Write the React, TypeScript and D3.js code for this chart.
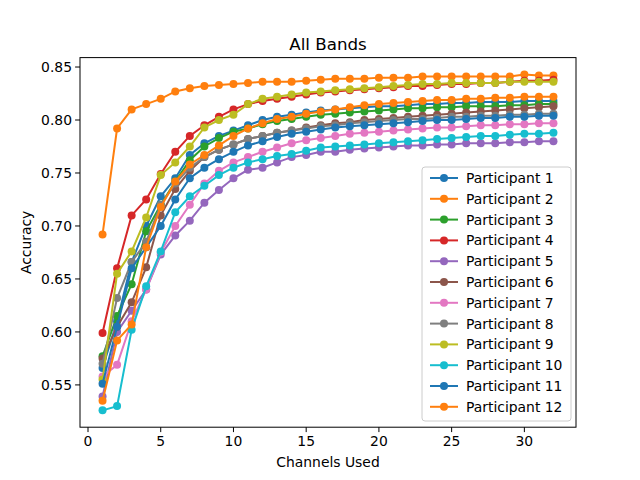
import * as d3 from "d3";

const channels = d3.range(1, 33);
const colors = ["#1f77b4", "#ff7f0e", "#2ca02c", "#d62728", "#9467bd", "#8c564b", "#e377c2", "#7f7f7f", "#bcbd22", "#17becf", "#1f77b4", "#ff7f0e"];
const names = d3.range(1, 13).map((i) => `Participant ${i}`);

const p1 = [0.566,0.61,0.666,0.70,0.728,0.745,0.767,0.778,0.785,0.79,0.795,0.80,0.803,0.805,0.807,0.809,0.81,0.811,0.812,0.813,0.813,0.814,0.815,0.815,0.816,0.816,0.817,0.817,0.817,0.818,0.818,0.818];
const p2 = [0.692,0.792,0.81,0.815,0.82,0.827,0.83,0.832,0.833,0.834,0.835,0.836,0.836,0.836,0.837,0.838,0.839,0.839,0.839,0.84,0.84,0.84,0.841,0.841,0.841,0.841,0.841,0.841,0.841,0.843,0.842,0.842];
const p3 = [0.577,0.615,0.645,0.695,0.72,0.742,0.762,0.775,0.783,0.789,0.792,0.796,0.799,0.801,0.803,0.805,0.806,0.807,0.808,0.809,0.81,0.811,0.811,0.812,0.812,0.813,0.813,0.813,0.814,0.814,0.815,0.815];
const p4 = [0.599,0.66,0.71,0.725,0.749,0.77,0.785,0.795,0.803,0.81,0.815,0.818,0.82,0.822,0.824,0.826,0.827,0.828,0.829,0.83,0.831,0.832,0.832,0.833,0.834,0.834,0.835,0.835,0.836,0.837,0.837,0.838];
const p5 = [0.539,0.60,0.62,0.64,0.673,0.691,0.705,0.722,0.734,0.745,0.753,0.755,0.76,0.765,0.767,0.77,0.77,0.772,0.773,0.774,0.775,0.776,0.776,0.777,0.777,0.778,0.778,0.778,0.779,0.779,0.78,0.78];
const p6 = [0.575,0.605,0.628,0.661,0.71,0.735,0.752,0.765,0.772,0.777,0.782,0.785,0.788,0.79,0.793,0.795,0.797,0.798,0.8,0.801,0.802,0.803,0.804,0.805,0.806,0.807,0.808,0.809,0.81,0.811,0.812,0.813];
const p7 = [0.558,0.569,0.61,0.64,0.675,0.70,0.72,0.74,0.752,0.76,0.765,0.77,0.774,0.778,0.781,0.783,0.785,0.787,0.788,0.789,0.79,0.791,0.792,0.793,0.793,0.794,0.795,0.795,0.796,0.796,0.797,0.797];
const p8 = [0.57,0.632,0.666,0.685,0.72,0.74,0.755,0.765,0.772,0.777,0.782,0.785,0.788,0.79,0.792,0.794,0.795,0.797,0.798,0.799,0.8,0.801,0.801,0.802,0.803,0.803,0.804,0.804,0.805,0.805,0.806,0.806];
const p9 = [0.555,0.655,0.676,0.708,0.748,0.76,0.775,0.793,0.80,0.805,0.815,0.82,0.822,0.824,0.826,0.827,0.828,0.829,0.83,0.831,0.832,0.833,0.834,0.834,0.835,0.835,0.835,0.835,0.836,0.836,0.836,0.836];
const p10 = [0.526,0.53,0.602,0.643,0.676,0.713,0.728,0.738,0.748,0.755,0.76,0.763,0.766,0.768,0.771,0.774,0.775,0.776,0.777,0.778,0.779,0.78,0.781,0.782,0.783,0.784,0.785,0.785,0.786,0.787,0.787,0.788];
const p11 = [0.551,0.605,0.66,0.68,0.70,0.725,0.745,0.755,0.763,0.77,0.776,0.78,0.784,0.787,0.789,0.791,0.793,0.794,0.795,0.796,0.797,0.798,0.799,0.8,0.8,0.801,0.802,0.802,0.803,0.803,0.804,0.804];
const p12 = [0.535,0.592,0.607,0.68,0.718,0.742,0.758,0.767,0.776,0.785,0.792,0.797,0.801,0.803,0.806,0.808,0.81,0.812,0.814,0.815,0.816,0.817,0.818,0.819,0.819,0.82,0.82,0.821,0.821,0.822,0.822,0.822];
const series = [p1, p2, p3, p4, p5, p6, p7, p8, p9, p10, p11, p12];

const xTicks = [0, 5, 10, 15, 20, 25, 30];
const yTicks = [0.55, 0.6, 0.65, 0.7, 0.75, 0.8, 0.85];

const W = 640, H = 480;
const L = 80, R = 576, T = 57.6, B = 427.2;
const font = "DejaVu Sans, sans-serif";

export default function App() {
  const x = d3.scaleLinear().domain([-0.55, 33.55]).range([L, R]);
  const y = d3.scaleLinear().domain([0.5101, 0.8589]).range([B, T]);
  const line = d3.line<number>().x((_, i) => x(channels[i])).y((d) => y(d));

  const lgX = 422, lgY = 167, rowH = 20.8;

  return (
    <svg width={W} height={H} style={{ position: "absolute", left: 0, top: 0, background: "#fff" }} fontFamily={font}>
      <rect x={0} y={0} width={W} height={H} fill="#fff" />
      {series.map((s, k) => (
        <g key={k}>
          <path d={line(s) ?? ""} fill="none" stroke={colors[k]} strokeWidth={2} />
          {s.map((v, i) => (
            <circle key={i} cx={x(channels[i])} cy={y(v)} r={4} fill={colors[k]} />
          ))}
        </g>
      ))}
      <rect x={L} y={T} width={R - L} height={B - T} fill="none" stroke="#000" strokeWidth={1} />
      {xTicks.map((t) => (
        <g key={t}>
          <line x1={x(t)} x2={x(t)} y1={B} y2={B + 4.9} stroke="#000" />
          <text x={x(t)} y={B + 19} fontSize={13.9} textAnchor="middle">{t}</text>
        </g>
      ))}
      {yTicks.map((t) => (
        <g key={t}>
          <line x1={L - 4.9} x2={L} y1={y(t)} y2={y(t)} stroke="#000" />
          <text x={L - 8} y={y(t) + 5} fontSize={13.9} textAnchor="end">{t.toFixed(2)}</text>
        </g>
      ))}
      <text x={(L + R) / 2} y={T - 8} fontSize={16.7} textAnchor="middle">All Bands</text>
      <text x={(L + R) / 2} y={467} fontSize={13.9} textAnchor="middle">Channels Used</text>
      <text transform={`translate(31,${(T + B) / 2}) rotate(-90)`} fontSize={13.9} textAnchor="middle">Accuracy</text>
      <rect x={lgX} y={lgY} width={149} height={254} rx={3} fill="#fff" fillOpacity={0.8} stroke="#ccc" />
      {names.map((n, k) => {
        const cy = lgY + 11 + k * rowH;
        return (
          <g key={n}>
            <line x1={lgX + 8} x2={lgX + 36} y1={cy} y2={cy} stroke={colors[k]} strokeWidth={2} />
            <circle cx={lgX + 22} cy={cy} r={4} fill={colors[k]} />
            <text x={lgX + 44} y={cy + 5} fontSize={13.9}>{n}</text>
          </g>
        );
      })}
    </svg>
  );
}
